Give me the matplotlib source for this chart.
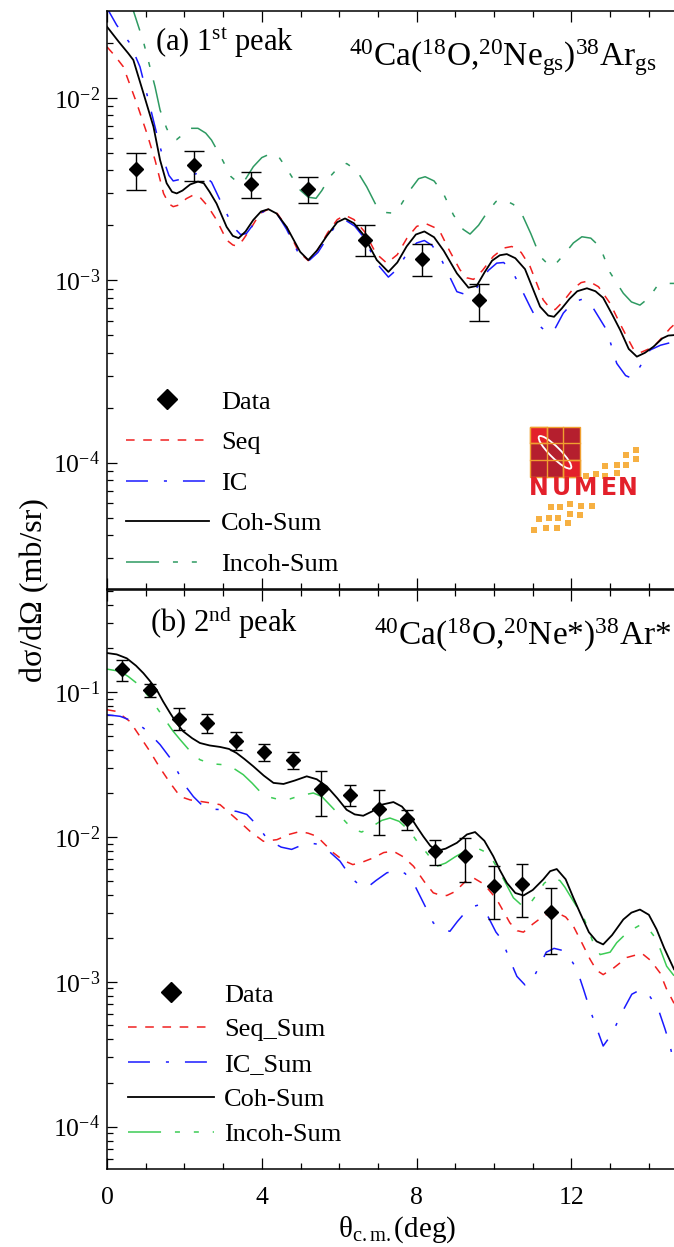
import numpy as np
import matplotlib
matplotlib.use("Agg")
import matplotlib.pyplot as plt
from matplotlib.ticker import MultipleLocator, LogLocator, NullFormatter
from matplotlib.patches import Rectangle, Ellipse

plt.rcParams['font.family'] = ['Liberation Serif', 'DejaVu Serif']
plt.rcParams['mathtext.fontset'] = 'custom'
plt.rcParams['mathtext.rm'] = 'Liberation Serif'
plt.rcParams['mathtext.it'] = 'Liberation Serif:italic'
plt.rcParams['lines.scale_dashes'] = False

# ---------------- panel (a): 1st peak ----------------
theta_a = [0.75, 2.24, 3.71, 5.19, 6.67, 8.13, 9.61]
sig_a   = [0.00405, 0.0043, 0.00337, 0.00316, 0.00167, 0.00131, 0.00078]
hi_a    = [0.0050, 0.0051, 0.00394, 0.00367, 0.0020, 0.00158, 0.00095]
lo_a    = [0.00312, 0.0035, 0.00281, 0.00266, 0.00136, 0.00105, 0.0006]

coh_a_x = [0.00, 0.30, 0.55, 0.68, 0.94, 1.20, 1.37, 1.54, 1.68, 1.80, 1.95, 2.15, 2.35, 2.50, 2.65,
           2.83, 3.09, 3.25, 3.40, 3.58, 3.78, 3.98, 4.17, 4.38, 4.64, 4.99, 5.20, 5.42, 5.68, 5.95,
           6.15, 6.38, 6.62, 6.97, 7.27, 7.50, 7.74, 7.98, 8.20, 8.45, 8.70, 9.04, 9.34, 9.55, 9.75,
           9.95, 10.15, 10.33, 10.55, 10.80, 11.19, 11.40, 11.55, 11.75, 11.95, 12.15, 12.40, 12.62,
           12.82, 13.05, 13.26, 13.48, 13.69, 13.90, 14.12, 14.35, 14.50, 14.65]
coh_a_y = [0.0245, 0.0203, 0.0175, 0.0161, 0.0106, 0.00694, 0.00456, 0.0034, 0.00305, 0.00299, 0.0031,
           0.00335, 0.00347, 0.0034, 0.00305, 0.00263, 0.00196, 0.00175, 0.0017, 0.00185, 0.00214,
           0.00238, 0.00245, 0.00232, 0.00196, 0.00143, 0.00129, 0.00145, 0.00175, 0.00208, 0.00218,
           0.00205, 0.00178, 0.00129, 0.00111, 0.00125, 0.00153, 0.00178, 0.00185, 0.00172, 0.00145,
           0.00109, 0.00091, 0.00093, 0.0011, 0.00128, 0.00137, 0.00139, 0.00132, 0.00115, 0.000716,
           0.00064, 0.00063, 0.0007, 0.00079, 0.00087, 0.000903, 0.00087, 0.0008, 0.00065, 0.000533,
           0.00042, 0.000381, 0.0004, 0.000432, 0.00048, 0.000497, 0.0005]

seq_a_x = [0.00, 0.20, 0.42, 0.77, 1.03, 1.24, 1.46, 1.60, 1.71, 1.85, 2.05, 2.23, 2.40, 2.60, 2.83,
           3.09, 3.25, 3.35, 3.50, 3.70, 3.95, 4.17, 4.40, 4.64, 4.95, 5.20, 5.45, 5.70, 5.95, 6.15,
           6.38, 6.65, 6.95, 7.23, 7.50, 7.75, 8.00, 8.22, 8.45, 8.60, 8.85, 9.12, 9.30, 9.47, 9.70,
           9.98, 10.25, 10.46, 10.70, 10.93, 11.27, 11.45, 11.58, 11.80, 12.05, 12.25, 12.44, 12.70,
           13.00, 13.25, 13.43, 13.60, 13.77, 14.00, 14.20, 14.40, 14.55, 14.65]
seq_a_y = [0.019, 0.017, 0.0148, 0.0093, 0.00638, 0.00456, 0.00299, 0.00262, 0.00253, 0.00258, 0.0028,
           0.00293, 0.00285, 0.00255, 0.00214, 0.00166, 0.00156, 0.00154, 0.00165, 0.0019, 0.00232,
           0.00245, 0.00232, 0.00196, 0.00143, 0.00128, 0.00147, 0.00182, 0.00215, 0.00227, 0.00215,
           0.00185, 0.0014, 0.00124, 0.00138, 0.0017, 0.00197, 0.00205, 0.00195, 0.00185, 0.00145,
           0.00114, 0.00103, 0.00101, 0.00113, 0.00135, 0.0015, 0.00153, 0.00142, 0.00119, 0.00078,
           0.0007, 0.00069, 0.00077, 0.0009, 0.00097, 0.00099, 0.00092, 0.000746, 0.00058, 0.00049,
           0.00042, 0.0004, 0.00042, 0.00045, 0.0005, 0.000545, 0.00057]

ic_a_x = [0.00, 0.25, 0.59, 0.85, 1.07, 1.28, 1.46, 1.60, 1.71, 1.97, 2.25, 2.40, 2.70, 2.92, 3.26,
          3.45, 3.60, 3.80, 4.00, 4.17, 4.40, 4.64, 4.95, 5.20, 5.45, 5.70, 5.95, 6.15, 6.40, 6.65,
          6.95, 7.27, 7.50, 7.75, 8.00, 8.20, 8.40, 8.60, 9.04, 9.30, 9.50, 9.64, 9.85, 10.07, 10.25,
          10.50, 10.70, 10.93, 11.20, 11.40, 11.55, 11.79, 12.05, 12.31, 12.55, 12.91, 13.17, 13.40,
          13.56, 13.75, 14.03, 14.30, 14.65]
ic_a_y = [0.031, 0.025, 0.0199, 0.0148, 0.0097, 0.0064, 0.00456, 0.00375, 0.0035, 0.0036, 0.0038,
          0.0039, 0.00345, 0.00275, 0.00196, 0.00178, 0.0018, 0.00205, 0.00235, 0.00245, 0.0023,
          0.0019, 0.0014, 0.00127, 0.00142, 0.00172, 0.00205, 0.00214, 0.00198, 0.0017, 0.00125,
          0.00104, 0.00115, 0.0014, 0.0016, 0.00165, 0.00155, 0.00135, 0.000865, 0.00083, 0.00088,
          0.00096, 0.00113, 0.00124, 0.00125, 0.00109, 0.0009, 0.000716, 0.000556, 0.00051, 0.00053,
          0.00066, 0.00076, 0.00079, 0.00071, 0.000533, 0.00035, 0.0003, 0.00029, 0.00033, 0.000414,
          0.00044, 0.00046]

inc_a_x = [0.50, 0.68, 0.94, 1.24, 1.37, 1.54, 1.67, 1.80, 2.00, 2.14, 2.35, 2.55, 2.70, 2.96, 3.20,
           3.40, 3.55, 3.78, 4.00, 4.25, 4.45, 4.64, 4.99, 5.20, 5.40, 5.55, 5.76, 6.00, 6.19, 6.45,
           6.71, 6.97, 7.20, 7.40, 7.60, 7.83, 8.05, 8.22, 8.45, 8.69, 8.95, 9.20, 9.38, 9.60, 9.81,
           10.05, 10.28, 10.50, 10.71, 10.95, 11.19, 11.40, 11.55, 11.83, 12.05, 12.27, 12.50, 12.74,
           13.00, 13.34, 13.55, 13.77, 14.00, 14.20, 14.45, 14.65]
inc_a_y = [0.04, 0.03, 0.0203, 0.0115, 0.00857, 0.0068, 0.006, 0.0059, 0.0064, 0.0068, 0.0068, 0.0064,
           0.00586, 0.00466, 0.0037, 0.0034, 0.0035, 0.00419, 0.0047, 0.00496, 0.0047, 0.0041,
           0.00312, 0.00285, 0.00281, 0.0031, 0.00369, 0.0042, 0.00436, 0.004, 0.00325, 0.00253,
           0.00235, 0.00233, 0.0026, 0.00312, 0.0036, 0.00369, 0.0035, 0.00299, 0.00228, 0.0019,
           0.00179, 0.002, 0.00233, 0.0027, 0.00275, 0.0026, 0.00233, 0.0018, 0.00135, 0.00122,
           0.0012, 0.0014, 0.0016, 0.00173, 0.0017, 0.00152, 0.0011, 0.000848, 0.00076, 0.00073,
           0.0008, 0.00092, 0.00096, 0.00096]

# ---------------- panel (b): 2nd peak ----------------
theta_b = [0.38, 1.11, 1.85, 2.58, 3.32, 4.06, 4.80, 5.54, 6.28, 7.03, 7.76, 8.48, 9.24, 9.99,
           10.72, 11.46]
sig_b   = [0.144, 0.104, 0.0655, 0.0611, 0.0461, 0.0384, 0.0341, 0.0214, 0.0194, 0.01567,
           0.01337, 0.00805, 0.00743, 0.00456, 0.00476, 0.00304]
hi_b    = [0.167, 0.1135, 0.0776, 0.0701, 0.0532, 0.0438, 0.0386, 0.0283, 0.0227, 0.0212,
           0.01535, 0.00958, 0.00988, 0.00627, 0.00655, 0.00447]
lo_b    = [0.119, 0.093, 0.0543, 0.0521, 0.0395, 0.0333, 0.0294, 0.0139, 0.0163, 0.01038,
           0.0112, 0.00644, 0.0049, 0.00269, 0.00282, 0.00155]

coh_b_x = [0.00, 0.25, 0.51, 0.75, 0.94, 1.10, 1.28, 1.45, 1.63, 1.80, 1.97, 2.20, 2.40, 2.65, 2.92,
           3.15, 3.35, 3.55, 3.78, 4.05, 4.30, 4.56, 4.85, 5.16, 5.42, 5.68, 5.95, 6.19, 6.40, 6.62,
           6.85, 7.10, 7.40, 7.62, 7.83, 8.00, 8.17, 8.35, 8.52, 8.75, 9.04, 9.30, 9.51, 9.75, 9.98,
           10.15, 10.33, 10.55, 10.76, 11.00, 11.27, 11.45, 11.62, 11.85, 12.05, 12.22, 12.45, 12.65,
           12.82, 13.05, 13.34, 13.55, 13.77, 14.00, 14.20, 14.40, 14.65]
coh_b_y = [0.186, 0.182, 0.171, 0.152, 0.135, 0.12, 0.104, 0.086, 0.0716, 0.061, 0.0535, 0.048,
           0.0445, 0.0428, 0.0418, 0.0405, 0.0379, 0.0345, 0.0307, 0.0265, 0.0236, 0.0232, 0.0245,
           0.0262, 0.025, 0.0223, 0.0185, 0.0154, 0.0143, 0.014, 0.015, 0.0167, 0.0174, 0.0162,
           0.0139, 0.0118, 0.0101, 0.0087, 0.008, 0.0083, 0.0091, 0.0104, 0.0108, 0.0094, 0.00735,
           0.0059, 0.00482, 0.0041, 0.00394, 0.0043, 0.00508, 0.0058, 0.006, 0.0051, 0.0038, 0.003,
           0.0022, 0.0019, 0.00181, 0.0021, 0.00269, 0.003, 0.00315, 0.0029, 0.0023, 0.0017, 0.00122]

seq_b_x = [0.00, 0.25, 0.59, 0.85, 1.11, 1.37, 1.63, 1.89, 2.15, 2.40, 2.65, 2.92, 3.26, 3.50, 3.70,
           4.04, 4.39, 4.70, 4.99, 5.20, 5.42, 5.85, 6.10, 6.35, 6.60, 6.88, 7.15, 7.40, 7.65, 7.92,
           8.20, 8.43, 8.60, 8.78, 9.00, 9.25, 9.47, 9.75, 10.07, 10.41, 10.60, 10.76, 11.00, 11.27,
           11.45, 11.62, 11.85, 12.05, 12.25, 12.48, 12.65, 12.82, 13.10, 13.43, 13.82, 14.05, 14.29,
           14.45, 14.65]
seq_b_y = [0.0755, 0.0735, 0.0627, 0.0494, 0.0389, 0.0299, 0.0236, 0.019, 0.018, 0.0176, 0.0172,
           0.0167, 0.0139, 0.0122, 0.0109, 0.00933, 0.00957, 0.0104, 0.0109, 0.0106, 0.0101, 0.00776,
           0.0069, 0.00644, 0.0067, 0.00716, 0.0078, 0.00796, 0.0073, 0.00627, 0.0049, 0.00411,
           0.00397, 0.00394, 0.0042, 0.0049, 0.00521, 0.0047, 0.0037, 0.00255, 0.00225, 0.0022,
           0.0025, 0.00283, 0.003, 0.003, 0.0028, 0.00242, 0.0019, 0.00143, 0.0012, 0.00112, 0.00125,
           0.00147, 0.00157, 0.0014, 0.00115, 0.0009, 0.00071]

ic_b_x = [0.00, 0.34, 0.60, 0.94, 1.15, 1.37, 1.63, 1.89, 2.05, 2.23, 2.53, 2.80, 3.05, 3.35, 3.61,
          3.91, 4.10, 4.30, 4.50, 4.77, 5.00, 5.20, 5.45, 5.68, 6.02, 6.32, 6.50, 6.71, 6.95, 7.23,
          7.50, 7.70, 7.96, 8.22, 8.43, 8.65, 8.86, 9.05, 9.25, 9.45, 9.62, 9.85, 10.05, 10.20, 10.37,
          10.59, 10.80, 10.95, 11.15, 11.35, 11.55, 11.75, 11.88, 12.14, 12.31, 12.48, 12.65, 12.82,
          13.00, 13.15, 13.30, 13.56, 13.78, 13.99, 14.25, 14.42, 14.55, 14.65]
ic_b_y = [0.0697, 0.068, 0.064, 0.0565, 0.05, 0.0434, 0.0351, 0.0262, 0.022, 0.019, 0.0158, 0.0155,
          0.0154, 0.015, 0.0143, 0.0118, 0.01, 0.0091, 0.0085, 0.0082, 0.0087, 0.0091, 0.0089,
          0.0082, 0.0068, 0.0052, 0.0047, 0.00445, 0.005, 0.00565, 0.0059, 0.0056, 0.00457, 0.00332,
          0.00255, 0.0023, 0.00223, 0.0026, 0.003, 0.0033, 0.0034, 0.0028, 0.0022, 0.00196, 0.0015,
          0.00109, 0.00095, 0.00098, 0.00125, 0.0016, 0.0017, 0.00165, 0.00158, 0.00122, 0.00089,
          0.00064, 0.00048, 0.00036, 0.00042, 0.0005, 0.00061, 0.00082, 0.00088, 0.00082, 0.00064,
          0.00047, 0.00036, 0.00027]

inc_b_x = [0.00, 0.34, 0.55, 0.77, 1.11, 1.30, 1.50, 1.70, 1.89, 2.15, 2.40, 2.70, 3.01, 3.25, 3.52,
           3.75, 3.95, 4.20, 4.45, 4.73, 5.00, 5.33, 5.55, 5.75, 6.00, 6.19, 6.40, 6.58, 6.85, 7.10,
           7.31, 7.55, 7.83, 8.05, 8.26, 8.52, 8.75, 9.00, 9.30, 9.55, 9.72, 9.90, 10.10, 10.30, 10.50,
           10.70, 10.88, 11.10, 11.30, 11.50, 11.70, 11.83, 12.05, 12.31, 12.55, 12.74, 13.00, 13.17,
           13.45, 13.77, 14.00, 14.20, 14.46, 14.65]
inc_b_y = [0.144, 0.139, 0.128, 0.115, 0.091, 0.077, 0.0644, 0.054, 0.0469, 0.039, 0.0341, 0.032,
           0.0315, 0.03, 0.0269, 0.0235, 0.0206, 0.0188, 0.0181, 0.0183, 0.0193, 0.0201, 0.019,
           0.0167, 0.0142, 0.0125, 0.0112, 0.0108, 0.0118, 0.013, 0.0135, 0.0128, 0.0109, 0.009,
           0.00776, 0.00627, 0.0066, 0.0073, 0.0081, 0.0084, 0.008, 0.0074, 0.006, 0.0048, 0.0038,
           0.0034, 0.00332, 0.004, 0.0048, 0.0052, 0.005, 0.0045, 0.0036, 0.0028, 0.0019, 0.00154,
           0.0016, 0.00186, 0.0022, 0.00246, 0.0023, 0.00196, 0.00128, 0.0011]

# line styles (dash lengths in points)
RED, BLUE, BLACK = '#f02020', '#1a1aff', 'black'
SEQ_DASH = (6.2, 6.2)
IC_DASH = (15.8, 11.5, 2.2, 11.5)
INC_DASH = (23.8, 10.0, 3.6, 10.0, 3.6, 10.0)


def setup_axis(ax, ylim, yt):
    ax.set_yscale('log')
    ax.set_xlim(0, 14.65)
    ax.set_ylim(*ylim)
    ax.xaxis.set_major_locator(MultipleLocator(4))
    ax.xaxis.set_minor_locator(MultipleLocator(1))
    ax.yaxis.set_minor_locator(LogLocator(base=10, subs=np.arange(2, 10)))
    ax.yaxis.set_minor_formatter(NullFormatter())
    ax.set_yticks(yt)
    ax.set_yticklabels(['10$^{%d}$' % int(round(np.log10(v))) for v in yt])
    ax.set_ylim(*ylim)
    ax.tick_params(which='both', direction='in', top=True, right=False, width=0.9,
                   labelsize=18.5)
    ax.tick_params(axis='x', which='major', length=8, pad=13)
    ax.tick_params(axis='x', which='minor', length=4.3)
    ax.tick_params(axis='y', which='major', length=7.2, pad=5)
    ax.tick_params(axis='y', which='minor', length=4.3)
    ax.spines['right'].set_visible(False)
    for s in ['left', 'top', 'bottom']:
        ax.spines[s].set_linewidth(1.1)


def draw_panel(ax, th, sg, lo, hi, curves, green, ms, cap):
    seq, ic, coh, inc = curves
    l1, = ax.plot(seq[0], seq[1], color=RED, lw=1.1, dashes=SEQ_DASH, zorder=2)
    l2, = ax.plot(ic[0], ic[1], color=BLUE, lw=1.1, dashes=IC_DASH, zorder=2)
    l4, = ax.plot(inc[0], inc[1], color=green, lw=1.1, dashes=INC_DASH, zorder=2)
    l3, = ax.plot(coh[0], coh[1], color=BLACK, lw=1.3, zorder=3)
    sg = np.array(sg)
    yerr = [sg - np.array(lo), np.array(hi) - sg]
    ax.errorbar(th, sg, yerr=yerr, fmt='none', ecolor='black', elinewidth=1.0,
                capsize=cap, capthick=1.0, zorder=4)
    d, = ax.plot(th, sg, 'D', color='black', markersize=ms, zorder=5)
    return [d, l1, l2, l3, l4]


fig = plt.figure(figsize=(6.74, 12.47), dpi=100)
axA = fig.add_axes([0.1588, 0.5277, 0.8412, 0.4635])
axB = fig.add_axes([0.1588, 0.0626, 0.8412, 0.4643])

setup_axis(axA, (2.03e-5, 0.0299), [1e-4, 1e-3, 1e-2])
setup_axis(axB, (5.1e-5, 0.507), [1e-4, 1e-3, 1e-2, 1e-1])
axA.tick_params(labelbottom=False)

hA = draw_panel(axA, theta_a, sig_a, lo_a, hi_a,
                [(seq_a_x, seq_a_y), (ic_a_x, ic_a_y), (coh_a_x, coh_a_y), (inc_a_x, inc_a_y)],
                '#2e9a62', 7, 7)
hB = draw_panel(axB, theta_b, sig_b, lo_b, hi_b,
                [(seq_b_x, seq_b_y), (ic_b_x, ic_b_y), (coh_b_x, coh_b_y), (inc_b_x, inc_b_y)],
                '#3ccc55', 7.5, 4)

axA.legend(hA, ['Data', 'Seq', 'IC', 'Coh-Sum', 'Incoh-Sum'], loc='upper left',
           bbox_to_anchor=(0.0326, 0.344), frameon=False, borderaxespad=0, borderpad=0,
           fontsize=19, handlelength=3.15, handletextpad=0.47, labelspacing=0.65, markerscale=1.4)
axB.legend(hB, ['Data', 'Seq_Sum', 'IC_Sum', 'Coh-Sum', 'Incoh-Sum'], loc='upper left',
           bbox_to_anchor=(0.037, 0.321), frameon=False, borderaxespad=0, borderpad=0,
           fontsize=19, handlelength=3.26, handletextpad=0.38, labelspacing=0.43, markerscale=1.3)

# panel labels
axA.text(0.085, 0.945, r'(a) 1$^{\rm st}$ peak', transform=axA.transAxes, fontsize=22,
         ha='left', va='center')
axA.text(0.970, 0.919, r'$^{40}$Ca($^{18}$O,$^{20}$Ne$_{\rm gs}$)$^{38}$Ar$_{\rm gs}$',
         transform=axA.transAxes, fontsize=24, ha='right', va='center')
axB.text(0.076, 0.945, r'(b) 2$^{\rm nd}$ peak', transform=axB.transAxes, fontsize=22,
         ha='left', va='center')
axB.text(0.995, 0.922, r'$^{40}$Ca($^{18}$O,$^{20}$Ne*)$^{38}$Ar*',
         transform=axB.transAxes, fontsize=24, ha='right', va='center')

fig.text(35 / 674, 1 - 590 / 1247, 'dσ/dΩ (mb/sr)', rotation=90, fontsize=23,
         ha='center', va='center')
fig.text(397 / 674, 1 - 1230 / 1247, r'θ$_{\rm c.m.}$(deg)', fontsize=21,
         ha='center', va='center')

# NUMEN logo (drawn in a small inset, coordinates in logo units)
lg = fig.add_axes([515 / 674, 1 - 540 / 1247, 140 / 674, 125 / 1247])
lg.set_xlim(0, 420)
lg.set_ylim(375, 0)
lg.axis('off')
ORANGE = '#f0a030'
lg.add_patch(Rectangle((45, 35), 150, 150, facecolor='#b51f2e', edgecolor=ORANGE, lw=1))
lg.add_patch(Rectangle((45, 35), 50, 50, facecolor='#e3202b', edgecolor=ORANGE, lw=1))
lg.add_patch(Rectangle((145, 135), 50, 50, facecolor='#e3202b', edgecolor=ORANGE, lw=1))
for g in [95, 145]:
    lg.plot([g, g], [35, 185], color=ORANGE, lw=1)
    lg.plot([45, 195], [g - 10, g - 10], color=ORANGE, lw=1)
lg.add_patch(Ellipse((120, 112), 135, 32, angle=45, facecolor='none', edgecolor='white', lw=1.3))
for ch, cx in zip('NUMEN', [72, 140, 212, 281, 337]):
    lg.text(cx, 220, ch, color='#e3202b', fontsize=17, fontweight='bold',
            family='DejaVu Sans', ha='center', va='center')
sq = [(362, 104), (334, 121), (362, 133), (306, 150), (334, 150), (270, 153), (306, 174),
      (270, 183), (242, 178), (214, 183), (232, 272), (198, 272), (165, 268), (135, 275),
      (108, 275), (165, 298), (195, 300), (130, 308), (102, 310), (72, 312), (160, 325),
      (125, 340), (92, 340), (58, 345)]
for cx, cy in sq:
    lg.add_patch(Rectangle((cx - 9, cy - 9), 18, 18, facecolor='#f6b042', edgecolor='none'))

fig.savefig('out.png', dpi=100)
